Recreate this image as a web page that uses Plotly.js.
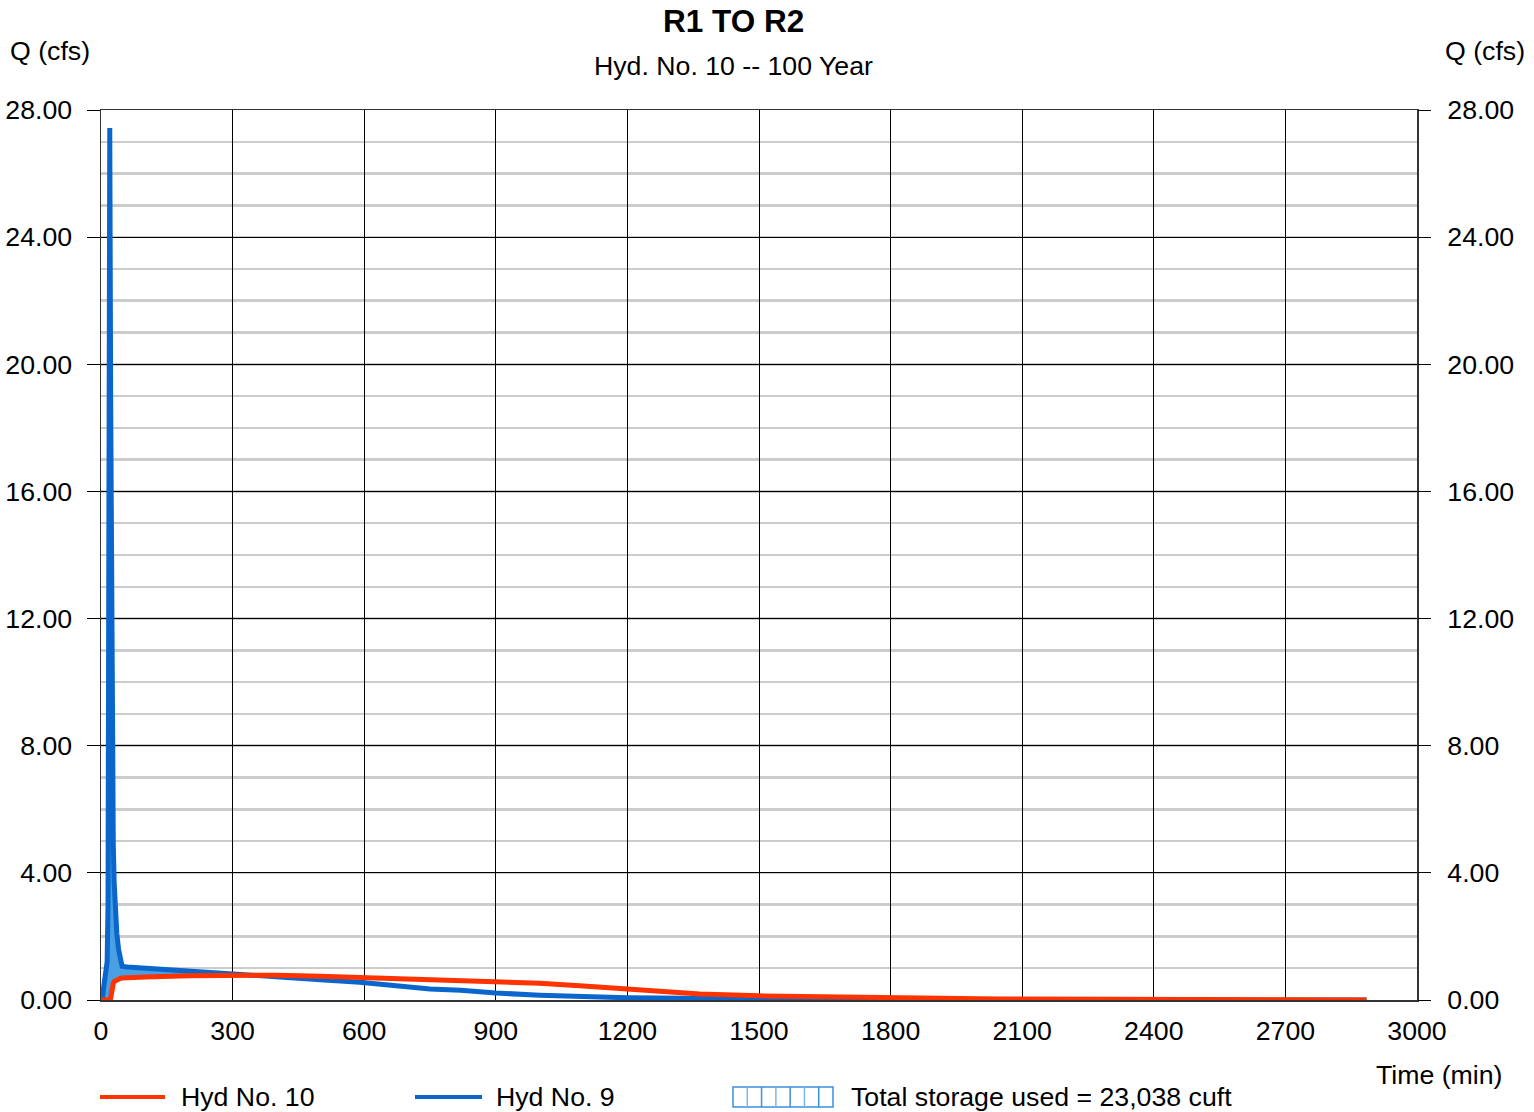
<!DOCTYPE html>
<html>
<head>
<meta charset="utf-8">
<script src="https://cdn.plot.ly/plotly-3.0.1.min.js"></script>
<style>html,body{margin:0;padding:0;background:#fff;}#chart{width:1534px;height:1112px;}</style>
</head>
<body>
<div id="chart"></div>
<script>
// ---- data ----
const timeMin = [0,3,6,10,14,16,18,20,22,24,26,28,30,32,36,40,44,48,60,100,200,300,400,500,590,650,700,750,820,900,1000,1100,1200,1267,1365,1500,1650,1800,2050,2300,2600,2885];
const hyd9Inflow = [0,0,0.4,0.9,1.2,3.0,12.0,27.43,19.0,11.0,7.0,4.9,3.7,2.9,2.1,1.6,1.25,1.06,1.04,1.0,0.93,0.82,0.72,0.64,0.56,0.48,0.42,0.35,0.31,0.22,0.15,0.10,0.07,0.06,0.04,0.02,0.01,0.01,0.01,0,0,0];
const hyd10Outflow = [0,0,0,0,0,0,0,0,0.05,0.3,0.45,0.52,0.58,0.6,0.63,0.66,0.68,0.69,0.70,0.72,0.76,0.78,0.78,0.75,0.71,0.69,0.67,0.66,0.63,0.59,0.53,0.44,0.35,0.29,0.19,0.13,0.10,0.07,0.03,0.02,0.01,0];
const xTicks = [0,300,600,900,1200,1500,1800,2100,2400,2700,3000];
const yTicks = [0,4,8,12,16,20,24,28];
const chartTitle = 'R1 TO R2';
const chartSubtitle = 'Hyd. No. 10 -- 100 Year';
const legendNames = ['Hyd No. 10', 'Hyd No. 9', 'Total storage used = 23,038 cuft'];

// ---- layout helpers ----
const L = 101, R = 1417, T = 110, B = 1000;
const px = x => (x - L) / (R - L);
const py = y => (B - y) / (B - T);
const FONT = 'Liberation Sans, Arial, sans-serif';
const FS = 26.7;
const RED = '#ff3300', BLUE = '#0a66cc', FILL = '#4a9fe3';

const upper = hyd9Inflow.map((v, i) => Math.max(v, hyd10Outflow[i]));

const traces = [
  {x: timeMin, y: hyd10Outflow, mode: 'lines', line: {width: 0, color: RED}, hoverinfo: 'skip', showlegend: false},
  {x: timeMin, y: upper, mode: 'lines', line: {width: 0}, fill: 'tonexty', fillcolor: FILL, hoverinfo: 'skip', showlegend: false},
  {x: timeMin, y: hyd9Inflow, mode: 'lines', line: {width: 5, color: BLUE}, name: legendNames[1], showlegend: false},
  {x: timeMin, y: hyd10Outflow, mode: 'lines', line: {width: 5, color: RED}, name: legendNames[0], showlegend: false},
  {x: timeMin, y: hyd10Outflow, yaxis: 'y2', mode: 'lines', line: {width: 0}, opacity: 0, hoverinfo: 'skip', showlegend: false}
];

const tickFont = {family: FONT, size: FS, color: '#000'};
const yCommon = {
  range: [0, 28], tickvals: yTicks, ticktext: yTicks.map(v => v.toFixed(2)),
  ticks: 'outside', ticklen: 13, tickcolor: '#000', tickwidth: 1,
  tickfont: tickFont, fixedrange: true, zeroline: false
};

const shapes = [
  {type: 'line', xref: 'paper', yref: 'paper', x0: px(100), x1: px(165), y0: py(1097), y1: py(1097), line: {color: RED, width: 4}},
  {type: 'line', xref: 'paper', yref: 'paper', x0: px(415), x1: px(482), y0: py(1097), y1: py(1097), line: {color: BLUE, width: 4}},
  {type: 'rect', xref: 'paper', yref: 'paper', x0: px(733), x1: px(833), y0: py(1087), y1: py(1107), line: {color: '#3a8fe0', width: 1.5}, fillcolor: 'rgba(0,0,0,0)'}
];
for (let k = 1; k < 7; k++) {
  const xx = 733 + k * 100 / 7;
  shapes.push({type: 'line', xref: 'paper', yref: 'paper', x0: px(xx), x1: px(xx), y0: py(1087), y1: py(1107), line: {color: k % 2 ? '#7db8ee' : '#3a8fe0', width: 1.5}});
}

const ann = (text, x, y, opts = {}) => Object.assign({
  text, xref: 'paper', yref: 'paper', x: px(x), y: py(y), showarrow: false,
  xanchor: 'center', yanchor: 'middle', font: {family: FONT, size: FS, color: '#000'}
}, opts);

const annotations = [
  ann('<b>' + chartTitle + '</b>', 733, 21, {font: {family: FONT, size: 31.5, color: '#000'}}),
  ann(chartSubtitle, 733, 66),
  ann('Q (cfs)', 8, 51, {xanchor: 'left'}),
  ann('Q (cfs)', 1527, 51, {xanchor: 'right'}),
  ann('Time (min)', 1505, 1075, {xanchor: 'right'}),
  ann(legendNames[0], 179, 1097, {xanchor: 'left'}),
  ann(legendNames[1], 494, 1097, {xanchor: 'left'}),
  ann(legendNames[2], 849, 1097, {xanchor: 'left'})
];

const layout = {
  width: 1534, height: 1112,
  margin: {l: L, r: 1534 - R, t: T, b: 1112 - B, pad: 0},
  paper_bgcolor: '#fff', plot_bgcolor: '#fff',
  showlegend: false,
  xaxis: {
    range: [0, 3000], tickvals: xTicks, ticktext: xTicks.map(String), ticks: '',
    tickfont: tickFont, ticklabelstandoff: 6,
    showgrid: true, gridcolor: '#000', gridwidth: 1,
    showline: true, mirror: true, linecolor: '#333', linewidth: 1.5,
    zeroline: false, fixedrange: true
  },
  yaxis: Object.assign({}, yCommon, {
    side: 'left', showgrid: true, gridcolor: '#000', gridwidth: 1,
    minor: {dtick: 1, tick0: 0, showgrid: true, gridcolor: '#cccccc', gridwidth: 2.5, ticks: ''},
    showline: true, mirror: true, linecolor: '#333', linewidth: 1.5, ticklabelstandoff: 9
  }),
  yaxis2: Object.assign({}, yCommon, {
    overlaying: 'y', side: 'right', showgrid: false, showline: false, ticklabelstandoff: 11
  }),
  shapes, annotations
};

Plotly.newPlot('chart', traces, layout, {staticPlot: true, displayModeBar: false});
</script>
</body>
</html>
